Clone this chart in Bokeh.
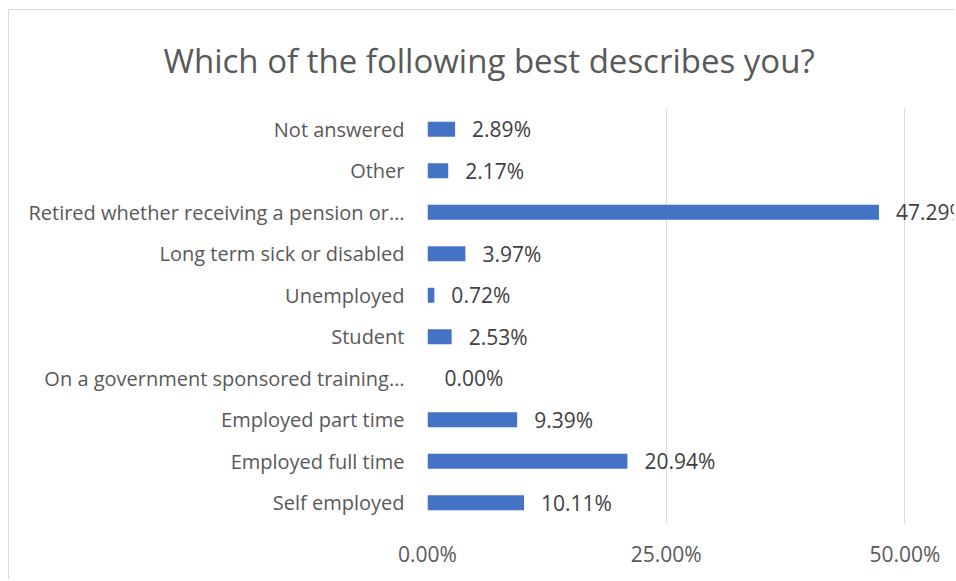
from bokeh.plotting import figure
from bokeh.models import ColumnDataSource, Range1d, FixedTicker
from bokeh.core.properties import value
from bokeh.embed import file_html
from bokeh.resources import INLINE

title = "Which of the following best describes you?"
categories = [
    "Self employed",
    "Employed full time",
    "Employed part time",
    "On a government sponsored training…",
    "Student",
    "Unemployed",
    "Long term sick or disabled",
    "Retired whether receiving a pension or…",
    "Other",
    "Not answered",
]
values = [10.11, 20.94, 9.39, 0.00, 2.53, 0.72, 3.97, 47.29, 2.17, 2.89]
x_ticks = [0, 25, 50]
x_tick_labels = ["0.00%", "25.00%", "50.00%"]

FONT = "Open Sans"
src = ColumnDataSource(dict(cat=categories, val=values,
                            lab=[f"{v:.2f}%" for v in values]))

W, H = 946, 570
p = figure(width=W, height=H, y_range=categories, x_range=Range1d(0, 55.3),
           output_backend="svg", toolbar_location=None,
           min_border_left=418, min_border_right=0, min_border_top=98,
           min_border_bottom=57,
           styles={"margin-left": "8px", "margin-top": "9px",
                   "border-left": "1px solid #d9d9d9", "border-top": "1px solid #d9d9d9"})

p.title.text = title
p.title.align = "left"
p.title.vertical_align = "top"
p.title.text_font = FONT
p.title.text_font_size = "33px"
p.title.text_font_style = "normal"
p.title.text_color = "#595959"
p.title.offset = -264
p.title.standoff = 48

p.hbar(y="cat", right="val", left=0, height=0.36, fill_color="#4472C4",
       line_color=None, source=src)
p.text(x="val", y="cat", text="lab", source=src, x_offset=17,
       text_align="left", text_baseline="middle", text_font=value(FONT),
       text_font_size="21px", text_color="#404040")

p.outline_line_color = None
p.ygrid.grid_line_color = None
p.xgrid.grid_line_color = "#d9d9d9"
p.xgrid.grid_line_width = 1

p.xaxis.ticker = FixedTicker(ticks=x_ticks)
p.xaxis.major_label_overrides = {t: l for t, l in zip(x_ticks, x_tick_labels)}
p.xaxis.axis_line_color = None
p.xaxis.major_tick_line_color = None
p.xaxis.minor_tick_line_color = None
p.xaxis.major_label_standoff = 10
p.xaxis.major_label_text_font = FONT
p.xaxis.major_label_text_font_size = "21px"
p.xaxis.major_label_text_color = "#595959"

p.yaxis.axis_line_color = None
p.yaxis.major_tick_line_color = None
p.yaxis.minor_tick_line_color = None
p.yaxis.major_label_standoff = 17
p.yaxis.major_label_text_font = FONT
p.yaxis.major_label_text_font_size = "20px"
p.yaxis.major_label_text_color = "#595959"

p.y_range.range_padding = 0

open("out.html", "w").write(file_html(p, INLINE))
